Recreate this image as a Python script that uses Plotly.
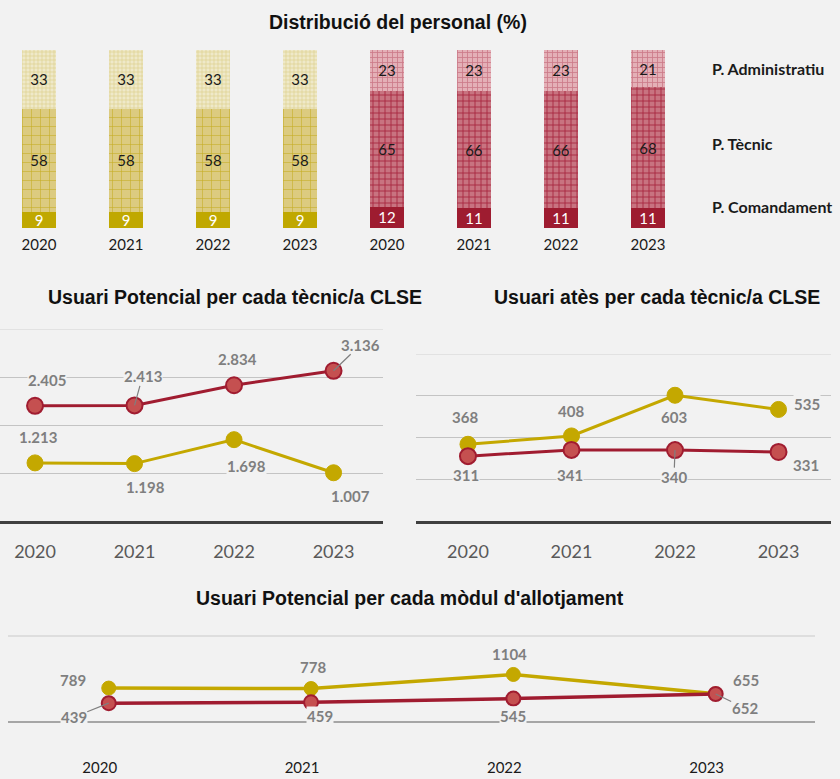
import plotly.graph_objects as go

years = ["2020", "2021", "2022", "2023"]

# Distribució del personal (%)
comand_groc = [9, 9, 9, 9]
tecnic_groc = [58, 58, 58, 58]
admin_groc = [33, 33, 33, 33]
comand_verm = [12, 11, 11, 11]
tecnic_verm = [65, 66, 66, 68]
admin_verm = [23, 23, 23, 21]
categories = ["P. Comandament", "P. Tècnic", "P. Administratiu"]

# Usuari Potencial per cada tècnic/a CLSE
potencial_tec_verm = [2405, 2413, 2834, 3136]
potencial_tec_groc = [1213, 1198, 1698, 1007]

# Usuari atès per cada tècnic/a CLSE
ates_groc = [368, 408, 603, 535]
ates_verm = [311, 341, 340, 331]

# Usuari Potencial per cada mòdul d'allotjament
modul_groc = [789, 778, 1104, 655]
modul_verm = [439, 459, 545, 652]

W, H = 840, 779
BG = "#f2f2f2"
GOLD = "#c4a800"
RED = "#a01c30"
RED_FILL = "#c55050"
LABEL_GREY = "#7f7f7f"


def px_x(a, b):
    return [a / W, b / W]


def px_y(top, bottom):
    return [1 - bottom / H, 1 - top / H]


fig = go.Figure()

# ---- stacked bars ----
bar_styles_groc = [
    dict(bg="#c0a800", fg="#c0a800", shape="", size=8, sol=0.3, txt="white"),
    dict(bg="#dccb80", fg="#c5ab22", shape="+", size=9, sol=0.12, txt="#1a1a1a"),
    dict(bg="#efe9c9", fg="#ddd08a", shape="+", size=4, sol=0.3, txt="#1a1a1a"),
]
bar_styles_verm = [
    dict(bg="#9e1c30", fg="#9e1c30", shape="", size=8, sol=0.3, txt="white"),
    dict(bg="#c87380", fg="#a82840", shape="+", size=6, sol=0.28, txt="#1a1a1a"),
    dict(bg="#e4b0b7", fg="#cc7b88", shape="+", size=5, sol=0.3, txt="#1a1a1a"),
]

for axis, series, styles in [
    ("", [comand_groc, tecnic_groc, admin_groc], bar_styles_groc),
    ("2", [comand_verm, tecnic_verm, admin_verm], bar_styles_verm),
]:
    for vals, name, st in zip(series, categories, styles):
        fig.add_trace(go.Bar(
            x=years, y=vals, name=name, width=0.4,
            xaxis="x" + axis, yaxis="y" + axis,
            marker=dict(
                color=st["bg"], line=dict(width=0),
                pattern=dict(shape=st["shape"], bgcolor=st["bg"], fgcolor=st["fg"],
                             size=st["size"], solidity=st["sol"], fillmode="replace"),
            ),
            texttemplate="%{y}", textposition="inside", insidetextanchor="middle",
            textangle=0,
            textfont=dict(family="Lato", size=15, color=st["txt"]),
            showlegend=False, hoverinfo="skip",
        ))


# ---- line charts ----
def add_lines(xa, ya, groc, verm, msize, lw):
    fig.add_trace(go.Scatter(
        x=years, y=groc, mode="lines+markers", xaxis=xa, yaxis=ya,
        line=dict(color=GOLD, width=lw),
        marker=dict(size=msize, color=GOLD, line=dict(color=GOLD, width=1)),
        showlegend=False, hoverinfo="skip",
    ))
    fig.add_trace(go.Scatter(
        x=years, y=verm, mode="lines+markers", xaxis=xa, yaxis=ya,
        line=dict(color=RED, width=lw),
        marker=dict(size=msize, color=RED_FILL, line=dict(color=RED, width=2)),
        showlegend=False, hoverinfo="skip",
    ))


add_lines("x3", "y3", potencial_tec_groc, potencial_tec_verm, 16, 3)
add_lines("x4", "y4", ates_groc, ates_verm, 16, 3)
add_lines("x5", "y5", modul_groc, modul_verm, 14, 3.5)

# label offsets (pixels) and leader flag per point
labels = [
    ("x3", "y3", potencial_tec_verm, [(12, -26, 0), (8, -29, 1), (3, -26, 0), (27, -26, 1)]),
    ("x3", "y3", potencial_tec_groc, [(3, -26, 0), (11, 23, 0), (12, 26, 0), (17, 23, 0)]),
    ("x4", "y4", ates_groc, [(-3, -27, 0), (0, -25, 0), (-1, 22, 0), (28, -5, 0)]),
    ("x4", "y4", ates_verm, [(-2, 19, 0), (-1, 25, 0), (-1, 27, 1), (27, 13, 0)]),
    ("x5", "y5", modul_groc, [(-36, -8, 0), (2, -22, 0), (-4, -20, 0), (30, -14, 0)]),
    ("x5", "y5", modul_verm, [(-35, 14, 1), (9, 14, 0), (0, 17, 0), (29, 14, 1)]),
]

annotations = []
for xa, ya, vals, offs in labels:
    for idx, (v, (ax, ay, lead)) in enumerate(zip(vals, offs)):
        txt = f"{v:,}".replace(",", ".") if xa == "x3" else str(v)
        annotations.append(dict(
            x=idx, y=v, xref=xa, yref=ya, text=txt,
            showarrow=True, ax=ax, ay=ay,
            arrowhead=0, arrowwidth=1.2,
            arrowcolor=LABEL_GREY if lead else "rgba(0,0,0,0)",
            bgcolor=BG, borderpad=0,
            font=dict(family="Lato", size=15, color=LABEL_GREY, weight="bold"),
        ))

# titles
title_font = dict(family="Liberation Sans, Arial", size=19.5, color="#111111", weight="bold")
for text, cx, cy in [
    ("Distribució del personal (%)", 398, 22),
    ("Usuari Potencial per cada tècnic/a CLSE", 235, 297),
    ("Usuari atès per cada tècnic/a CLSE", 657, 297),
    ("Usuari Potencial per cada mòdul d'allotjament", 410, 598),
]:
    annotations.append(dict(x=cx / W, y=1 - cy / H, xref="paper", yref="paper",
                            text=text, showarrow=False, font=title_font,
                            xanchor="center", yanchor="middle"))

# category labels next to the bars
for text, cy in zip(categories, [207, 143, 68]):
    annotations.append(dict(x=710 / W, y=1 - cy / H, xref="paper", yref="paper",
                            text=text, showarrow=False, xanchor="left", yanchor="middle",
                            font=dict(family="Lato", size=16, color="#1a1a1a", weight="bold")))

hidden_y = dict(visible=False, fixedrange=True)
bar_x = dict(type="category", showgrid=False, zeroline=False, showline=False, ticks="",
             tickfont=dict(family="Lato", size=15, color="#1a1a1a"), ticklabelstandoff=6)
line_x = dict(type="category", showgrid=False, zeroline=False, showline=True,
              linecolor="#404040", linewidth=3, ticks="", ticklabelstandoff=12,
              tickfont=dict(family="Lato", size=18, color="#595959"))
line_y = dict(showgrid=True, gridcolor="#c4c4c4", gridwidth=1, zeroline=False,
              showticklabels=False, ticks="", showline=False)

fig.update_layout(
    width=W, height=H,
    paper_bgcolor=BG, plot_bgcolor=BG,
    margin=dict(l=0, r=0, t=0, b=0, autoexpand=False),
    barmode="stack",
    uniformtext=dict(minsize=15, mode="show"),
    annotations=annotations,
    xaxis=dict(bar_x, domain=px_x(0, 336), range=[-0.448, 3.414]),
    yaxis=dict(hidden_y, domain=px_y(50, 228), range=[0, 100]),
    xaxis2=dict(bar_x, domain=px_x(340, 700), range=[-0.54, 3.598], anchor="y2"),
    yaxis2=dict(hidden_y, domain=px_y(50, 228), range=[0, 100], anchor="x2"),
    xaxis3=dict(line_x, domain=px_x(0, 383), range=[-0.352, 3.497], anchor="y3"),
    yaxis3=dict(line_y, domain=px_y(320, 521), range=[0, 4196],
                tickvals=[1000, 2000, 3000], anchor="x3",
                minor=dict(tickvals=[4000], showgrid=True, gridcolor="#e2e2e2", ticks="")),
    xaxis4=dict(line_x, domain=px_x(416, 831), range=[-0.502, 3.507], anchor="y4"),
    yaxis4=dict(line_y, domain=px_y(320, 521), range=[0, 964],
                tickvals=[200, 400, 600], anchor="x4",
                minor=dict(tickvals=[800], showgrid=True, gridcolor="#e2e2e2", ticks="")),
    xaxis5=dict(type="category", showgrid=False, zeroline=False, showline=False, ticks="",
                domain=px_x(8, 815), range=[-0.498, 3.491], anchor="y5",
                ticklabelstandoff=34, ticklabelshift=-9,
                tickfont=dict(family="Lato", size=15, color="#1a1a1a")),
    yaxis5=dict(showgrid=True, gridcolor="#dedede", gridwidth=1.5,
                zeroline=True, zerolinecolor="#a6a6a6", zerolinewidth=1.5,
                showticklabels=False, ticks="", showline=False,
                domain=px_y(628, 723), range=[-20, 2180], dtick=2000, anchor="x5"),
)

fig.write_html("out.html", config={"displayModeBar": False},
               post_script="document.body.style.margin='0';")
